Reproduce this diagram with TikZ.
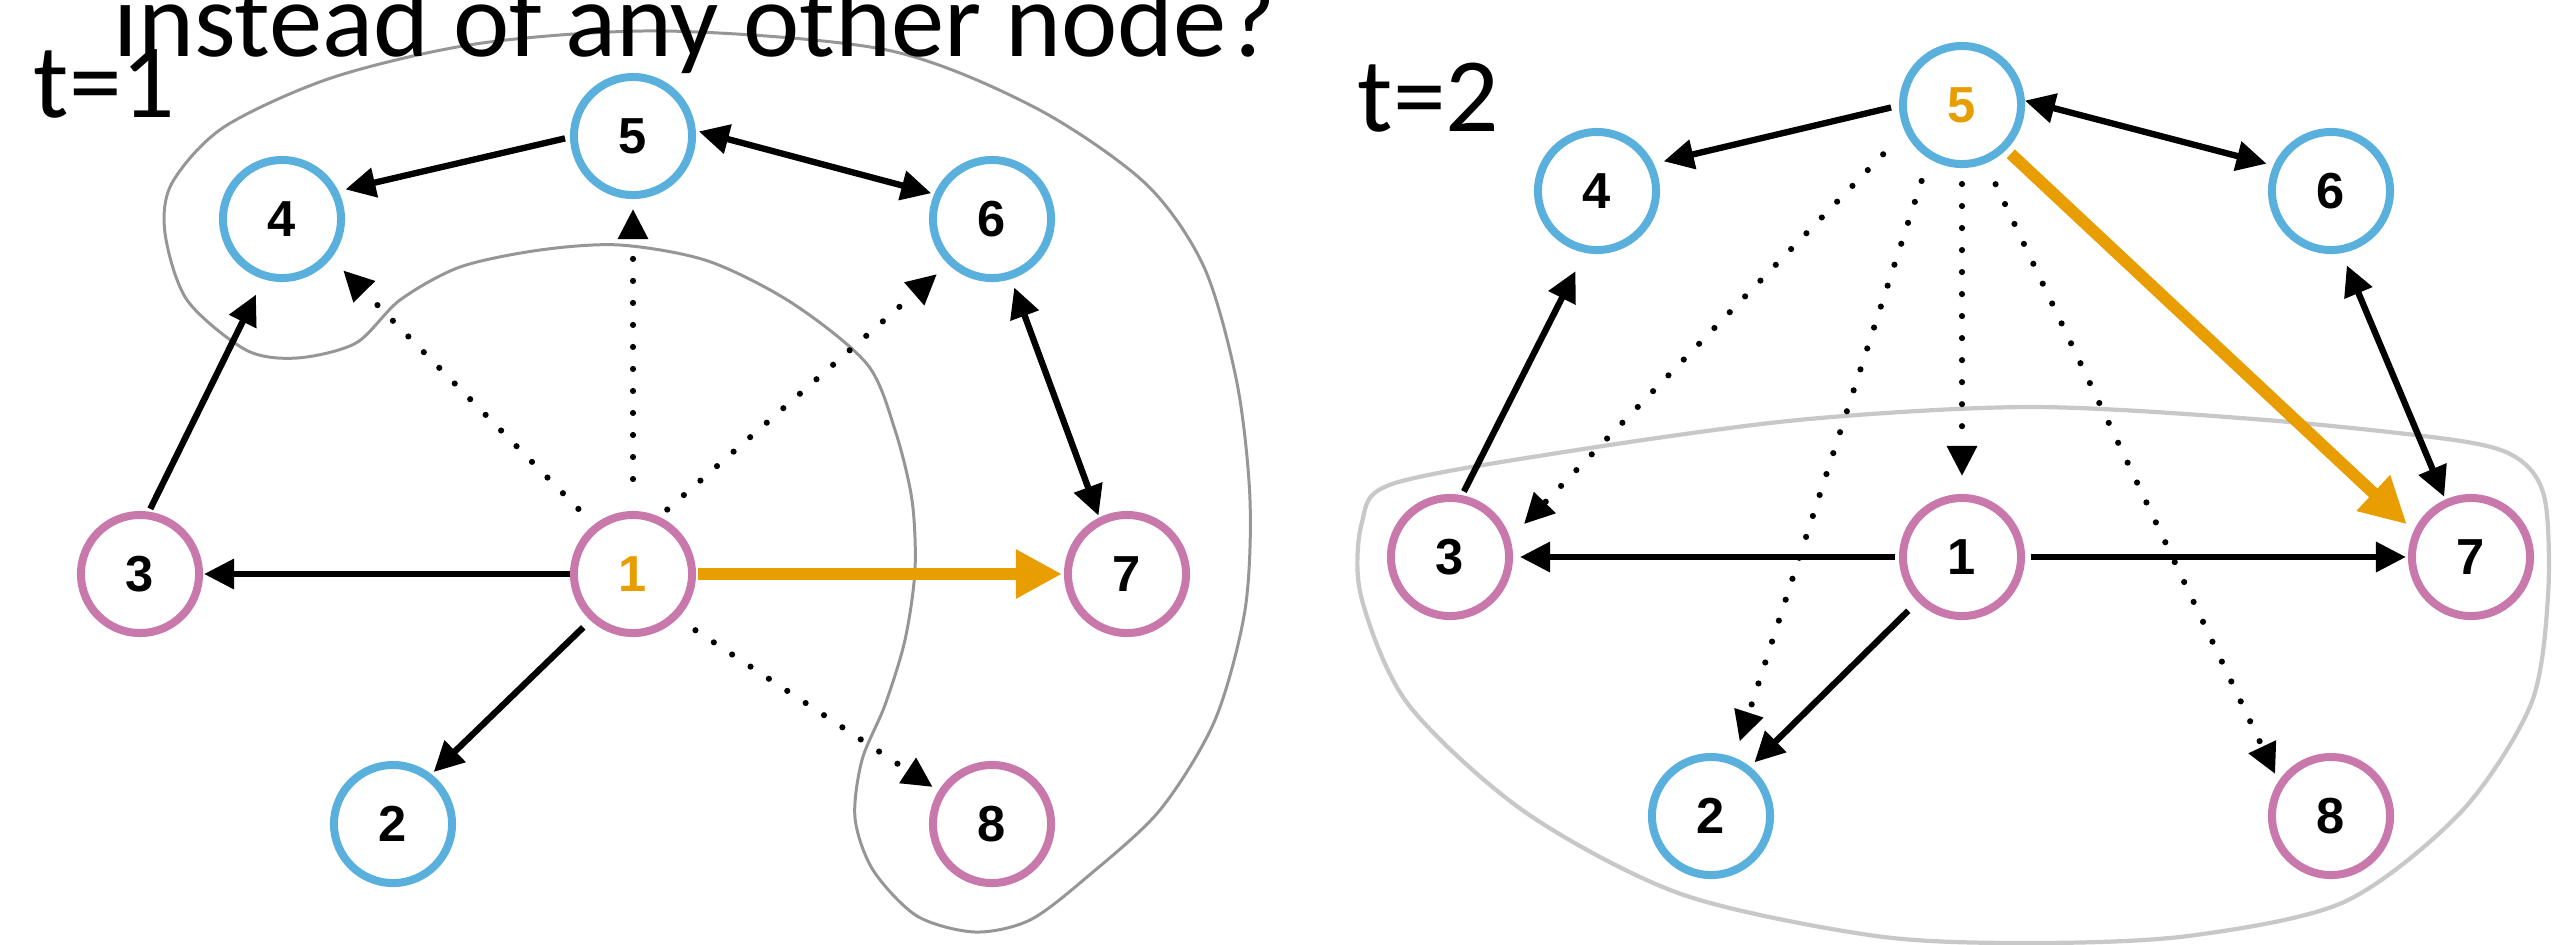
\documentclass[tikz,border=0pt]{standalone}
\usepackage{fontspec}
\setmainfont{Carlito}
\newfontfamily\nodefont{Liberation Sans}
\usetikzlibrary{arrows.meta,calc}
\definecolor{cblue}{RGB}{90,176,220}
\definecolor{cpink}{RGB}{200,120,170}
\definecolor{corange}{RGB}{232,158,0}
\definecolor{hullA}{RGB}{150,150,150}
\definecolor{hullB}{RGB}{200,200,200}
\tikzset{
  vtx/.style={circle, draw, line width=0.08cm, minimum size=1.18cm, inner sep=0pt, fill=white,
    font=\nodefont\bfseries\fontsize{14.4pt}{14pt}\selectfont},
  bluev/.style={vtx, draw=cblue},
  pinkv/.style={vtx, draw=cpink},
  tip/.style={-{Triangle[length=0.3cm,width=0.29cm]}},
  arr/.style={line width=1.8pt, tip},
  darr/.style={line width=1.8pt, {Triangle[length=0.3cm,width=0.29cm]}-{Triangle[length=0.3cm,width=0.29cm]}},
  dotarr/.style={line width=1.75pt, line cap=round, dash pattern=on 0pt off 0.22cm, tip},
  orarr/.style={draw=corange, line width=0.12cm, -{Triangle[length=0.46cm,width=0.46cm]}},
  hullL/.style={draw=hullA, line width=0.85pt},
  hullR/.style={draw=hullB, line width=1.2pt},
  lbl/.style={anchor=base west, inner sep=0pt}
}
\begin{document}
\begin{tikzpicture}[x=0.01cm, y=0.01cm]
\useasboundingbox (0,0) rectangle (2553,-944);
\clip (0,0) rectangle (2553,-944);

% hulls
\draw[hullL] plot[smooth cycle, tension=0.5] coordinates {
 (172,-183) (224,-127) (334,-77) (482,-43) (666,-31) (887,-50) (1034,-107) (1145,-183)
 (1204,-267) (1237,-383) (1250,-500) (1245,-610) (1215,-720) (1160,-810) (1087,-877)
 (1030,-920) (975,-932) (917,-916) (873,-870) (855,-818) (862,-760) (885,-705) (905,-640)
 (915,-570) (912,-500) (895,-430) (867,-364) (792,-303) (708,-261) (620,-245) (540,-250)
 (460,-267) (400,-300) (356,-343) (297,-358) (246,-350) (187,-300) (165,-233)};
\draw[hullR] plot[smooth cycle, tension=0.5] coordinates {
 (1392,-484) (1564,-452) (1798,-420) (2032,-407) (2266,-420) (2461,-441) (2520,-460) (2545,-500)
 (2548,-596) (2531,-704) (2461,-812) (2344,-902) (2188,-936) (2032,-943) (1876,-936) (1681,-894)
 (1525,-812) (1408,-704) (1361,-596) (1362,-522)};

% left graph nodes
\node[pinkv, text=corange] (L1) at (633,-574) {1};
\node[bluev] (L2) at (393,-824) {2};
\node[pinkv] (L3) at (140,-574) {3};
\node[bluev] (L4) at (282,-219) {4};
\node[bluev] (L5) at (633,-136) {5};
\node[bluev] (L6) at (992,-219) {6};
\node[pinkv] (L7) at (1127,-574) {7};
\node[pinkv] (L8) at (992,-824) {8};

% right graph nodes
\node[pinkv] (R1) at (1962,-557) {1};
\node[bluev] (R2) at (1711,-816) {2};
\node[pinkv] (R3) at (1450,-557) {3};
\node[bluev] (R4) at (1597,-191) {4};
\node[bluev, text=corange] (R5) at (1962,-105) {5};
\node[bluev] (R6) at (2331,-191) {6};
\node[pinkv] (R7) at (2471,-557) {7};
\node[pinkv] (R8) at (2331,-816) {8};

% left edges
\draw[arr] ($(L5)+(182:68)$) -- ($(L4)+(25:70)$);
\draw[darr] ($(L5)+(4:66)$) -- ($(L6)+(157:66)$);
\draw[dotarr] ($(L1)+(90:95)$) -- ($(L5)+(270:73)$);
\draw[dotarr] ($(L1)+(130:85)$) -- ($(L4)+(320:80)$);
\draw[dotarr] ($(L1)+(62:73)$) -- ($(L6)+(225:78)$);
\draw[arr] ($(L3)+(81:66)$) -- ($(L4)+(251:80)$);
\draw[arr] ($(L1)+(180:63)$) -- ($(L3)+(0:64)$);
\draw[orarr] ($(L1)+(0:65)$) -- ($(L7)+(180:65)$);
\draw[arr] ($(L1)+(227:73)$) -- ($(L2)+(52:66)$);
\draw[dotarr] ($(L1)+(318:84)$) -- ($(L8)+(148:70)$);
\draw[darr] ($(L6)+(288:72)$) -- ($(L7)+(116:65)$);

% right edges
\draw[arr] ($(R5)+(182:71)$) -- ($(R4)+(24:73)$);
\draw[darr] ($(R5)+(4:63)$) -- ($(R6)+(157:70)$);
\draw[dotarr] ($(R5)+(212:93)$) -- ($(R3)+(24:81)$);
\draw[dotarr] ($(R5)+(242:86)$) -- ($(R2)+(69:80)$);
\draw[dotarr] ($(R5)+(270:79)$) -- ($(R1)+(90:81)$);
\draw[dotarr] ($(R5)+(293:86)$) -- ($(R8)+(143:70)$);
\draw[arr] ($(R3)+(78:67)$) -- ($(R4)+(255:83)$);
\draw[arr] ($(R1)+(180:67)$) -- ($(R3)+(0:70)$);
\draw[arr] ($(R1)+(0:69)$) -- ($(R7)+(180:65)$);
\draw[arr] ($(R1)+(225:76)$) -- ($(R2)+(51:69)$);
\draw[darr] ($(R6)+(282:76)$) -- ($(R7)+(114:66)$);
\draw[orarr] ($(R5)+(315:69)$) -- ($(R7)+(153:72)$);

% texts
\node[lbl, font=\fontsize{30.3pt}{31pt}\selectfont] (title) at (113,-56) {instead of any other node?};
\node[lbl, font=\fontsize{30pt}{31pt}\selectfont] (t1) at (33,-117) {t=1};
\node[lbl, font=\fontsize{30pt}{31pt}\selectfont] (t2) at (1357,-131) {t=2};
\end{tikzpicture}
\end{document}
